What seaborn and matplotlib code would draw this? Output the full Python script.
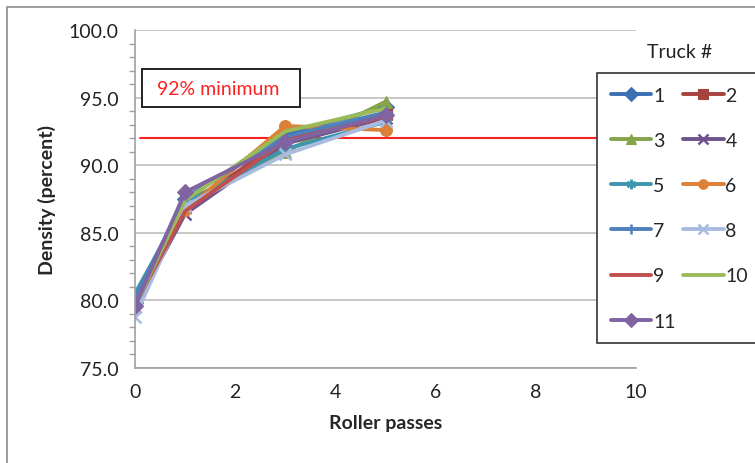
import matplotlib
matplotlib.use("Agg")
import matplotlib.pyplot as plt
import matplotlib.patches as mpatches
import seaborn as sns

# Roller passes at which density was measured
passes = [0, 1, 3, 5]

# Density (percent) for each truck
truck_1 = [79.8, 87.5, 92.3, 94.3]
truck_2 = [80.0, 86.9, 91.9, 93.8]
truck_3 = [79.9, 87.3, 91.0, 94.7]
truck_4 = [79.5, 86.4, 91.6, 93.5]
truck_5 = [80.5, 87.2, 91.2, 93.2]
truck_6 = [80.1, 86.7, 92.9, 92.6]
truck_7 = [80.2, 87.6, 92.1, 93.9]
truck_8 = [78.8, 87.0, 90.8, 93.3]
truck_9 = [79.7, 86.6, 91.8, 93.6]
truck_10 = [79.6, 87.4, 92.5, 94.2]
truck_11 = [79.6, 88.0, 91.7, 93.7]

truck_names = ["1", "2", "3", "4", "5", "6", "7", "8", "9", "10", "11"]
minimum_density = 92

series = [truck_1, truck_2, truck_3, truck_4, truck_5, truck_6,
          truck_7, truck_8, truck_9, truck_10, truck_11]

colors = ["#3C6EB4", "#A8423F", "#86A44A", "#6E548D", "#3D96AE", "#DA8137",
          "#4F81BD", "#A9BCE0", "#C0504D", "#9BBB59", "#8064A2"]
asterisk = (6, 2, 0)
markers = ["D", "s", "^", "x", asterisk, "o", "+", "x", None, None, "D"]

FS = 14

sns.set_style("white")
plt.rcParams["font.family"] = ["Lato", "DejaVu Sans"]

fig = plt.figure(figsize=(7.55, 4.64), dpi=100)
ax = fig.add_axes([0.1788, 0.2047, 0.8424 - 0.1788, 0.9332 - 0.2047])

# outer chart border
fig.patches.append(mpatches.Rectangle((7 / 755, -0.1), 1.2, 1.1 - 8 / 464,
                                      transform=fig.transFigure, fill=False,
                                      edgecolor="#8C8C8C", linewidth=1.2))

for vals, name, col, mk in zip(series, truck_names, colors, markers):
    sns.lineplot(x=passes, y=vals, ax=ax, color=col, marker=mk, markersize=8.5,
                 markeredgewidth=1.8 if mk in ("x", "+", asterisk) else 0.8,
                 markeredgecolor=col, linewidth=2.8, label=name)

handles, labels = ax.get_legend_handles_labels()
ax.get_legend().remove()

ax.axhline(minimum_density, xmin=0.01, xmax=1.25, color="#FF2020",
           linewidth=1.5, clip_on=False, zorder=1)

ax.set_xlim(0, 10)
ax.set_ylim(75, 100)
ax.set_xticks(range(0, 11, 2))
ax.set_yticks([75, 80, 85, 90, 95, 100])
ax.set_yticks(range(75, 101), minor=True)
ax.set_yticklabels([f"{v:.1f}" for v in [75, 80, 85, 90, 95, 100]])
ax.yaxis.grid(True, color="#BEBEBE", linewidth=1.2)
ax.set_axisbelow(True)
for s in ["top", "right"]:
    ax.spines[s].set_visible(False)
for s in ["left", "bottom"]:
    ax.spines[s].set_color("#A0A0A0")
    ax.spines[s].set_linewidth(1.2)
ax.tick_params(axis="both", which="both", direction="out", color="#A0A0A0",
               labelsize=FS, labelcolor="#222222")
ax.tick_params(axis="both", which="major", length=5, width=1)
ax.tick_params(axis="y", which="minor", length=4, width=1, left=True)
ax.tick_params(axis="x", pad=6)
ax.tick_params(axis="y", pad=7)

ax.set_xlabel("Roller passes", fontsize=FS, fontweight="bold", labelpad=10)
ax.set_ylabel("Density (percent)", fontsize=FS, fontweight="bold", labelpad=9)

# "92% minimum" label box
ax.add_patch(mpatches.Rectangle((0.014, 0.772), 0.315, 0.113,
                                transform=ax.transAxes, facecolor="white",
                                edgecolor="#222222", linewidth=1.4, zorder=5))
ax.text(0.044, 0.826, "92% minimum", transform=ax.transAxes, color="#FF2020",
        fontsize=FS, va="center", ha="left", zorder=6)

order = [0, 2, 4, 6, 8, 10, 1, 3, 5, 7, 9]
leg = fig.legend([handles[i] for i in order], [labels[i] for i in order],
                 loc="upper left", bbox_to_anchor=(597 / 755, 1 - 74 / 464),
                 ncol=2, fontsize=FS, frameon=True, fancybox=False,
                 framealpha=1, edgecolor="#333333", labelspacing=1.45,
                 handlelength=2.1, handletextpad=0.1, columnspacing=0.35,
                 borderpad=0.7, borderaxespad=0, markerscale=0.8)
leg.get_frame().set_linewidth(1.2)
fig.text(680 / 755, 1 - 53 / 464, "Truck #", fontsize=FS, ha="center",
         va="center", color="#222222")

plt.savefig("out.png", dpi=100)
plt.close()
